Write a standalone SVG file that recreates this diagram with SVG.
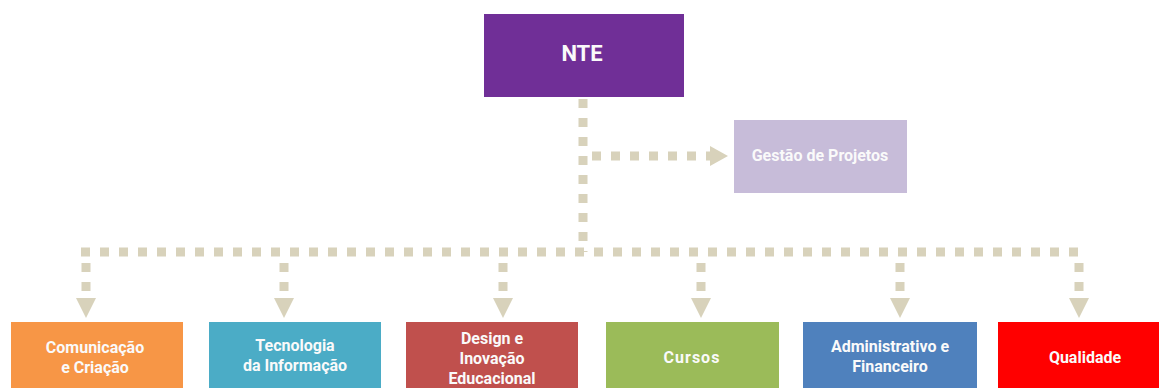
<svg xmlns="http://www.w3.org/2000/svg" width="1159" height="388" viewBox="0 0 1159 388">
<style>
.lbl{font-family:Roboto,"Liberation Sans",sans-serif;font-weight:700;fill:#fafafa;text-anchor:middle;dominant-baseline:central}
.c{font-size:16px}
.dot{stroke:#d8d2bb;stroke-width:9;fill:none;stroke-dasharray:9 10}
.ah{fill:#d8d2bb}
</style>
<rect width="1159" height="388" fill="#ffffff"/>
<g id="connectors">
<line class="dot" x1="583" y1="99" x2="583" y2="252"/>
<line class="dot" x1="592" y1="156" x2="710" y2="156"/>
<polygon class="ah" points="710,146 728,156 710,166"/>
<line class="dot" x1="81" y1="252" x2="1084" y2="252"/>
<line class="dot" x1="86" y1="263" x2="86" y2="298"/>
<polygon class="ah" points="76,298 96,298 86,318"/>
<line class="dot" x1="284" y1="263" x2="284" y2="298"/>
<polygon class="ah" points="274,298 294,298 284,318"/>
<line class="dot" x1="503" y1="263" x2="503" y2="298"/>
<polygon class="ah" points="493,298 513,298 503,318"/>
<line class="dot" x1="701" y1="263" x2="701" y2="298"/>
<polygon class="ah" points="691,298 711,298 701,318"/>
<line class="dot" x1="900" y1="263" x2="900" y2="298"/>
<polygon class="ah" points="890,298 910,298 900,318"/>
<line class="dot" x1="1079" y1="263" x2="1079" y2="298"/>
<polygon class="ah" points="1069,298 1089,298 1079,318"/>
</g>
<g id="nte">
<rect x="484" y="14" width="200" height="83" fill="#702f97"/>
<text class="lbl" x="582" y="53" font-size="22">NTE</text>
</g>
<g id="gestao">
<rect x="734" y="120" width="173" height="73" fill="#c7bcd9"/>
<text class="lbl c" x="820" y="155">Gestão de Projetos</text>
</g>
<g id="comunicacao">
<rect x="11" y="322" width="172" height="80" fill="#f79646"/>
<text class="lbl c" x="95" y="347">Comunicação</text>
<text class="lbl c" x="95" y="367">e Criação</text>
</g>
<g id="tecnologia">
<rect x="209" y="322" width="172" height="80" fill="#4bacc6"/>
<text class="lbl c" x="295" y="345">Tecnologia</text>
<text class="lbl c" x="295" y="365">da Informação</text>
</g>
<g id="design">
<rect x="406" y="322" width="172" height="80" fill="#c0504d"/>
<text class="lbl c" x="492" y="338">Design e</text>
<text class="lbl c" x="492" y="358">Inovação</text>
<text class="lbl c" x="492" y="378">Educacional</text>
</g>
<g id="cursos">
<rect x="606" y="322" width="173" height="80" fill="#9bbb59"/>
<text class="lbl c" x="692" y="357" letter-spacing="1">Cursos</text>
</g>
<g id="administrativo">
<rect x="803" y="322" width="174" height="80" fill="#4f81bd"/>
<text class="lbl c" x="890" y="346">Administrativo e</text>
<text class="lbl c" x="890" y="366">Financeiro</text>
</g>
<g id="qualidade">
<rect x="998" y="322" width="172" height="80" fill="#ff0000"/>
<text class="lbl c" x="1085" y="357">Qualidade</text>
</g>
</svg>
